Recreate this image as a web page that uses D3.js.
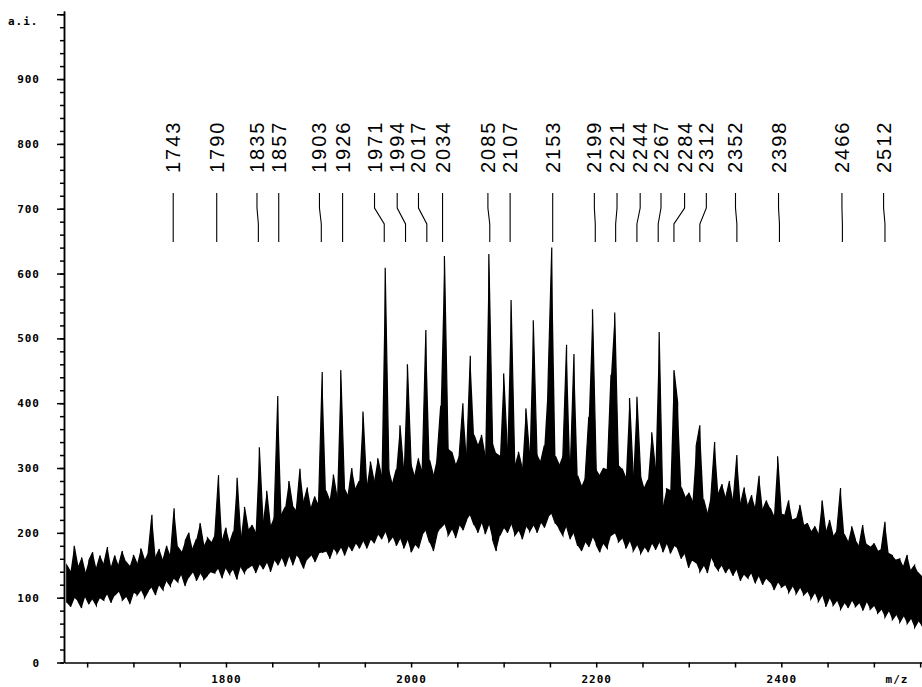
<!DOCTYPE html>
<html>
<head>
<meta charset="utf-8">
<script src="https://cdn.jsdelivr.net/npm/d3@7"></script>
<style>
  body { margin: 0; background: #fff; }
  svg { display: block; }
  .axis text { font-family: "DejaVu Sans Mono", monospace; font-weight: bold; font-size: 11px; letter-spacing: 1px; fill: #000; }
  .axis path, .axis line { stroke: #000; stroke-width: 1.5; }
  .peak-label { font-family: "Liberation Sans", Arial, sans-serif; font-size: 20px; letter-spacing: 2px; fill: #000; }
</style>
</head>
<body>
<svg id="chart" width="922" height="687"></svg>
<script>
binMz = d3.range(1628, 2553, 4);

binHigh = [
  150, 140, 180, 148, 162, 138, 158, 170, 145, 165,
  152, 178, 146, 165, 150, 172, 155, 148, 166, 152,
  176, 158, 170, 228, 162, 175, 158, 180, 165, 238,
  178, 170, 188, 200, 175, 190, 215, 180, 192, 185,
  198, 289, 188, 208, 185, 202, 285, 192, 240, 205,
  212, 200, 332, 218, 265, 210, 225, 411, 228, 240,
  280, 242, 235, 299, 248, 270, 238, 256, 244, 448,
  265, 250, 290, 255, 451, 270, 258, 300, 268, 280,
  387, 272, 310, 280, 315, 288, 609, 299, 276, 298,
  366, 295, 460, 308, 288, 315, 296, 513, 312, 289,
  315, 396, 627, 330, 325, 305, 320, 400, 318, 473,
  351, 335, 351, 318, 630, 340, 322, 318, 446, 328,
  559, 305, 325, 300, 392, 320, 528, 322, 310, 335,
  433, 640, 318, 305, 320, 490, 298, 476, 288, 272,
  285, 379, 545, 298, 289, 300, 298, 444, 540, 305,
  299, 285, 408, 288, 410, 290, 269, 282, 355, 298,
  510, 241, 268, 265, 451, 401, 270, 255, 262, 248,
  334, 366, 252, 230, 258, 340, 260, 275, 255, 280,
  250, 320, 245, 270, 242, 258, 238, 288, 236, 250,
  238, 225, 318, 230, 228, 250, 220, 222, 243, 212,
  215, 202, 210, 198, 250, 202, 220, 195, 204, 269,
  198, 186, 210, 190, 180, 212, 182, 178, 184, 172,
  175, 217, 168, 165, 158, 160, 148, 166, 142, 150,
  138, 132
];

binLow = [
  92, 86, 100, 95, 84, 102, 90, 98, 88, 100,
  96, 106, 92, 104, 110, 96, 102, 90, 108, 104,
  112, 100, 110, 116, 104, 120, 112, 126, 118, 130,
  124, 136, 118, 132, 140, 126, 138, 128, 134, 140,
  138, 145, 130, 146, 136, 144, 128, 148, 138, 146,
  150, 138, 152, 144, 155, 140, 158, 150, 162, 148,
  165, 150, 166, 158, 145, 160, 166, 155, 168, 170,
  172, 160, 176, 168, 178, 165, 180, 172, 184, 176,
  188, 176, 190, 184, 198, 190, 202, 186, 194, 180,
  192, 176, 190, 170, 182, 176, 196, 204, 185, 172,
  198, 208, 214, 196, 206, 192, 212, 204, 220, 228,
  212, 200, 216, 198, 214, 190, 172, 196, 208, 200,
  214, 196, 204, 190, 210, 202, 212, 200, 216, 208,
  224, 230, 214, 206, 196, 210, 190, 200, 180, 172,
  186, 178, 194, 182, 170, 184, 176, 196, 200, 186,
  192, 176, 188, 172, 182, 168, 178, 170, 184, 174,
  186, 170, 184, 168, 180, 176, 160, 168, 146, 158,
  154, 140, 150, 138, 162, 150, 142, 150, 138, 146,
  134, 144, 126, 136, 130, 138, 122, 134, 120, 130,
  124, 112, 124, 116, 120, 108, 118, 106, 116, 104,
  110, 98, 108, 94, 104, 86, 100, 88, 96, 82,
  92, 84, 96, 86, 92, 80, 94, 82, 88, 76,
  82, 70, 80, 66, 74, 62, 72, 60, 68, 54,
  64, 56
];

// peak labels: the m/z written, and where the label sits (spread apart)
labelMz = [1743, 1790, 1835, 1857, 1903, 1926, 1971, 1994, 2017, 2034, 2085, 2107,
           2153, 2199, 2221, 2244, 2267, 2284, 2312, 2352, 2398, 2466, 2512];
labelAt = [1743, 1790, 1833.5, 1857, 1901, 1926, 1960.5, 1985, 2008, 2034, 2083, 2107,
           2153, 2198, 2222.5, 2247.5, 2270, 2295.5, 2319, 2350.5, 2397, 2465.5, 2510.5];

xTicks = d3.range(1650, 2551, 50);
xLabels = [1800, 2000, 2200, 2400];
yTicks = d3.range(0, 1001, 100);
yMinor = d3.range(0, 1001, 20);

/* ---- scales ---- */
var plotL = 64, plotR = 922, plotT = 11, plotB = 662.5;

x = d3.scaleLinear().domain([1625, 2552]).range([plotL, plotR]);
y = d3.scaleLinear().domain([0, 1005]).range([plotB, plotT]);

svg = d3.select("#chart");

svg.append("defs").append("clipPath").attr("id", "plot")
  .append("rect").attr("x", plotL).attr("y", 0)
  .attr("width", plotR - plotL).attr("height", plotB);

/* ---- spectrum ---- */
bins = binMz.map((m, i) => ({ mz: m, low: binLow[i], high: binHigh[i] }));

area = d3.area()
  .x(d => x(d.mz))
  .y0(d => y(d.low))
  .y1(d => y(d.high));

svg.append("path")
  .attr("clip-path", "url(#plot)")
  .attr("d", area(bins))
  .attr("fill", "#000");

// zig-zag trace through min and max of each bin, gives the ragged edge
trace = [];
bins.forEach((d, i) => {
  if (i % 2 == 0) { trace.push([d.mz, d.low]); trace.push([d.mz, d.high]); }
  else { trace.push([d.mz, d.high]); trace.push([d.mz, d.low]); }
});

svg.append("path")
  .attr("clip-path", "url(#plot)")
  .attr("d", d3.line().x(d => x(d[0])).y(d => y(d[1]))(trace))
  .attr("fill", "none")
  .attr("stroke", "#000")
  .attr("stroke-width", 1.2);

/* ---- axes ---- */
svg.append("g")
  .attr("class", "axis")
  .attr("transform", `translate(${plotL},0)`)
  .call(d3.axisLeft(y).tickValues(yMinor).tickSize(4).tickSizeOuter(0).tickFormat(""));

svg.append("g")
  .attr("class", "axis")
  .attr("transform", `translate(${plotL},0)`)
  .call(d3.axisLeft(y).tickValues(yTicks).tickSize(7).tickSizeOuter(0).tickPadding(17)
    .tickFormat(d => d == 1000 ? "" : d));

svg.append("g")
  .attr("class", "axis")
  .attr("transform", `translate(0,${plotB})`)
  .call(d3.axisBottom(x).tickValues(xTicks).tickSize(5).tickSizeOuter(0).tickPadding(8)
    .tickFormat(d => xLabels.includes(d) ? d : ""));

svg.append("text")
  .attr("x", 8).attr("y", 25)
  .style("font-family", "DejaVu Sans Mono, monospace")
  .style("font-weight", "bold").style("font-size", "11px")
  .style("letter-spacing", "1px")
  .text("a.i.");

svg.append("text")
  .attr("x", 897).attr("y", 683)
  .attr("text-anchor", "middle")
  .style("font-family", "DejaVu Sans Mono, monospace")
  .style("font-weight", "bold").style("font-size", "11px")
  .style("letter-spacing", "1px")
  .text("m/z");

/* ---- peak labels with leader lines ---- */
labels = labelMz.map((m, i) => ({ mz: m, at: labelAt[i] }));

svg.append("g")
  .selectAll("path")
  .data(labels)
  .join("path")
  .attr("d", d => `M${x(d.at)},193V208L${x(d.mz)},224V242`)
  .attr("fill", "none")
  .attr("stroke", "#000")
  .attr("stroke-width", 1.1);

svg.append("g")
  .selectAll("text")
  .data(labels)
  .join("text")
  .attr("class", "peak-label")
  .attr("transform", d => `translate(${x(d.at)},173) rotate(-90)`)
  .attr("dy", "0.35em")
  .text(d => d.mz);
</script>
</body>
</html>
